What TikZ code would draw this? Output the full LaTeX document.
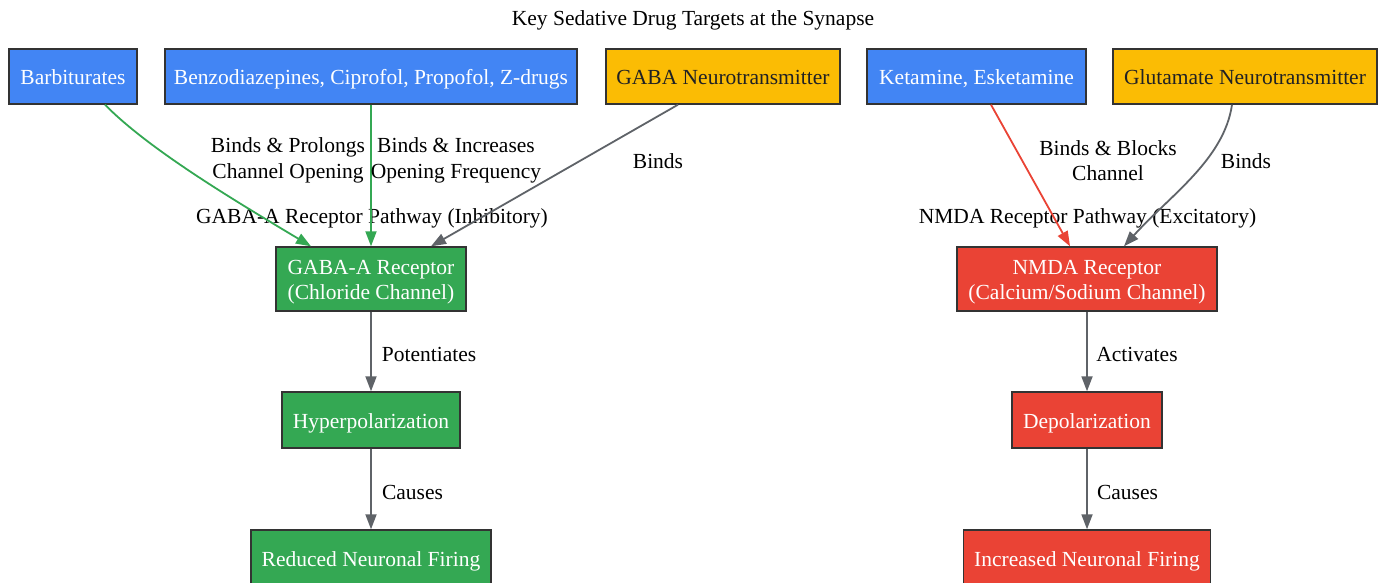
\documentclass[tikz,border=0pt]{standalone}
\usepackage{fontspec}
\setmainfont{Liberation Serif}
\usetikzlibrary{arrows.meta}
\definecolor{gblue}{HTML}{4285F4}
\definecolor{gyellow}{HTML}{FBBC04}
\definecolor{ggreen}{HTML}{34A853}
\definecolor{gred}{HTML}{EA4335}
\definecolor{ggray}{HTML}{5F6368}
\definecolor{nborder}{HTML}{333333}
\definecolor{darktxt}{HTML}{202124}
\newcommand{\boxtext}[1]{\raisebox{-3pt}[\height][\depth]{\begin{tabular}{@{}c@{}}#1\end{tabular}}}
\begin{document}
\begin{tikzpicture}[x=1pt,y=-1pt,
  font=\fontsize{21.5}{25.5}\selectfont,
  box/.style={draw=nborder, line width=1.4pt, rectangle, inner sep=0pt, align=center, text=white},
  topbox/.style={box, minimum height=55pt},
  bluebox/.style={topbox, fill=gblue},
  yellowbox/.style={topbox, fill=gyellow, text=darktxt},
  greenbox/.style={box, fill=ggreen},
  redbox/.style={box, fill=gred},
  conn/.style={line width=1.8pt, color=ggray, -{Triangle[length=15pt,width=11pt]}},
  lbl/.style={align=center, inner sep=0pt, text=black}]
\useasboundingbox[fill=white] (0,0) rectangle (1386,583);

% title and cluster labels
\node[lbl] (title) at (693,20) {Key Sedative Drug Targets at the Synapse};
\node[lbl] (gabacl) at (372,218.5) {GABA-A Receptor Pathway (Inhibitory)};
\node[lbl] (nmdacl) at (1087.5,218.5) {NMDA Receptor Pathway (Excitatory)};

% top row
\node[bluebox, minimum width=128pt] (barb) at (73,76.5) {\boxtext{Barbiturates}};
\node[bluebox, minimum width=412pt] (benzo) at (371,76.5) {\boxtext{Benzodiazepines, Ciprofol, Propofol, Z-drugs}};
\node[yellowbox, minimum width=234pt] (gaba) at (723,76.5) {\boxtext{GABA Neurotransmitter}};
\node[bluebox, minimum width=219pt] (ket) at (976.5,76.5) {\boxtext{Ketamine, Esketamine}};
\node[yellowbox, minimum width=264pt] (glu) at (1245,76.5) {\boxtext{Glutamate Neurotransmitter}};

% receptors
\node[greenbox, minimum width=190pt, minimum height=64pt] (gabaa) at (371,279) {\boxtext{GABA-A Receptor\\(Chloride Channel)}};
\node[redbox, minimum width=260pt, minimum height=64pt] (nmda) at (1087,279) {\boxtext{NMDA Receptor\\(Calcium/Sodium Channel)}};

% effects
\node[greenbox, minimum width=178pt, minimum height=56pt] (hyper) at (371,420) {\boxtext{Hyperpolarization}};
\node[redbox, minimum width=150pt, minimum height=56pt] (depol) at (1087,420) {\boxtext{Depolarization}};
\node[greenbox, minimum width=240pt, minimum height=56pt] (reduced) at (371,558) {\boxtext{Reduced Neuronal Firing}};
\node[redbox, minimum width=247pt, minimum height=56pt] (increased) at (1087,558) {\boxtext{Increased Neuronal Firing}};

% edges into GABA-A
\draw[conn, color=ggreen]
  ([xshift=32pt]barb.south) .. controls +(45,46) and +(-70,-42) .. ([xshift=-60pt]gabaa.north);
\draw[conn, color=ggreen] (benzo.south) -- (gabaa.north);
\draw[conn] ([xshift=-45pt]gaba.south) -- ([xshift=60pt]gabaa.north);

% edges into NMDA
\draw[conn, color=gred] ([xshift=14.5pt]ket.south) -- ([xshift=-17pt]nmda.north);
\draw[conn] ([xshift=-13pt]glu.south) .. controls +(-8,55) and +(45,-50) .. ([xshift=37pt]nmda.north);

% vertical chains
\draw[conn] (gabaa.south) -- (hyper.north);
\draw[conn] (hyper.south) -- (reduced.north);
\draw[conn] (nmda.south) -- (depol.north);
\draw[conn] (depol.south) -- (increased.north);

% edge labels
\node[lbl] (l1) at (288,160.5) {Binds \& Prolongs\\Channel Opening};
\node[lbl] (l2) at (456,160.5) {Binds \& Increases\\Opening Frequency};
\node[lbl] (l3) at (658,161.5) {Binds};
\node[lbl] (l4) at (1108,160.5) {Binds \& Blocks\\Channel};
\node[lbl] (l5) at (1246,161.5) {Binds};
\node[lbl] (l6) at (429,354.5) {Potentiates};
\node[lbl] (l7) at (412.5,492.5) {Causes};
\node[lbl] (l8) at (1137,354.5) {Activates};
\node[lbl] (l9) at (1127.5,492.5) {Causes};
\end{tikzpicture}
\end{document}
